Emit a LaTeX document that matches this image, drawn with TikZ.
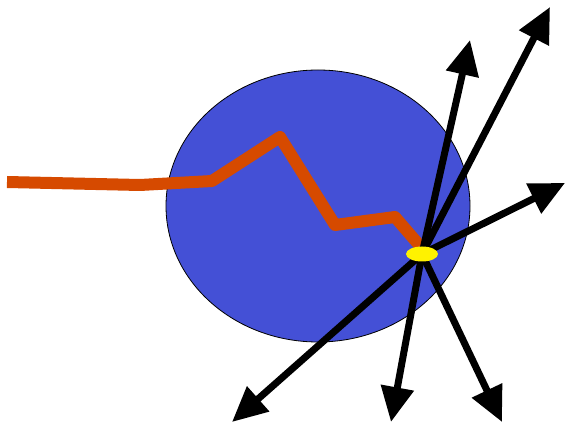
\documentclass[tikz,border=0pt]{standalone}
\usetikzlibrary{arrows.meta,shapes.geometric,positioning}
\definecolor{cellblue}{RGB}{68,80,214}
\definecolor{trackorange}{RGB}{214,74,0}
\tikzset{
  ray/.style={-{Triangle[length=35pt, width=32pt]}, line width=7pt, black},
  track/.style={line width=12pt, trackorange, line join=round},
}

\begin{document}
\begin{tikzpicture}[x=1pt, y=-1pt]
  \useasboundingbox (0,0) rectangle (565,427);

  % Cell
  \node[ellipse, draw, thick, fill=cellblue, minimum width=304pt, minimum height=272pt, inner sep=0pt] (cell) at (318, 206) {};

  % Incoming track
  \coordinate (t0) at (7, 182);
  \coordinate (t1) at (140, 185);
  \coordinate (t2) at (212, 181);
  \coordinate (t3) at (280, 137);
  \coordinate (t4) at (335, 225);
  \coordinate (t5) at (395, 217);
  \coordinate (t6) at (420, 246);
  \draw[track] (t0) -- (t1) -- (t2) -- (t3) -- (t4) -- (t5) -- (t6);

  % Vertex
  \coordinate (v) at (422, 254);

  % Outgoing rays
  \coordinate (r1) at (232, 422);
  \coordinate (r2) at (391, 422);
  \coordinate (r3) at (502, 422);
  \coordinate (r4) at (470, 40);
  \coordinate (r5) at (550, 7);
  \coordinate (r6) at (565, 183);
  \foreach \r in {r1,r2,r3,r4,r5,r6}
    \draw[ray] (v) -- (\r);

  % Vertex marker
  \node[ellipse, fill=yellow, minimum width=32pt, minimum height=15pt, inner sep=0pt] (hit) at (v) {};
\end{tikzpicture}
\end{document}
